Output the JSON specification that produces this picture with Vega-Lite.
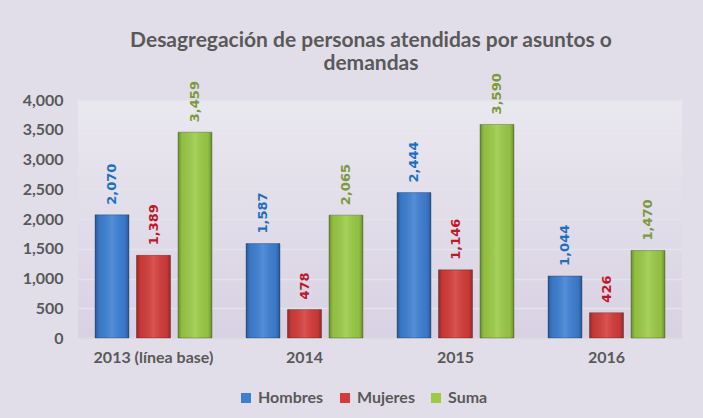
{
  "$schema": "https://vega.github.io/schema/vega-lite/v6.json",
  "width": 604,
  "height": 238,
  "autosize": {"type": "none"},
  "padding": {"left": 78, "top": 100, "right": 21, "bottom": 80},
  "background": "#e2dee9",
  "config": {
    "view": {
      "stroke": null,
      "fill": {"gradient": "linear", "x1": 0, "y1": 0, "x2": 0, "y2": 1,
        "stops": [{"offset": 0, "color": "#eae8ef"}, {"offset": 1, "color": "#d8d1e3"}]}
    },
    "font": "Lato"
  },
  "title": {
    "text": ["Desagregación de personas atendidas por asuntos o", "demandas"],
    "font": "Lato", "fontSize": 21, "fontWeight": "bold", "color": "#595959",
    "anchor": "middle", "offset": 4, "dy": 5, "lineHeight": 23, "dx": -9
  },
  "data": {
    "values": [
      {"anio": "2013 (línea base)", "serie": "Hombres", "valor": 2070},
      {"anio": "2013 (línea base)", "serie": "Mujeres", "valor": 1389},
      {"anio": "2013 (línea base)", "serie": "Suma", "valor": 3459},
      {"anio": "2014", "serie": "Hombres", "valor": 1587},
      {"anio": "2014", "serie": "Mujeres", "valor": 478},
      {"anio": "2014", "serie": "Suma", "valor": 2065},
      {"anio": "2015", "serie": "Hombres", "valor": 2444},
      {"anio": "2015", "serie": "Mujeres", "valor": 1146},
      {"anio": "2015", "serie": "Suma", "valor": 3590},
      {"anio": "2016", "serie": "Hombres", "valor": 1044},
      {"anio": "2016", "serie": "Mujeres", "valor": 426},
      {"anio": "2016", "serie": "Suma", "valor": 1470}
    ]
  },
  "encoding": {
    "x": {
      "field": "anio", "type": "nominal", "sort": null,
      "scale": {"paddingInner": 0.225, "paddingOuter": 0.1125},
      "axis": {
        "title": null, "labelAngle": 0, "labelFont": "Lato", "labelFontSize": 16,
        "labelFontWeight": "bold", "labelColor": "#595959", "labelPadding": 11,
        "ticks": false, "domainColor": "#d9d9de", "domainWidth": 1.5
      }
    },
    "xOffset": {
      "field": "serie", "type": "nominal", "sort": ["Hombres", "Mujeres", "Suma"],
      "scale": {"paddingInner": 0.18, "paddingOuter": 0}
    },
    "y": {
      "field": "valor", "type": "quantitative",
      "scale": {"domain": [0, 4000], "nice": false},
      "axis": {
        "title": null, "values": [0, 500, 1000, 1500, 2000, 2500, 3000, 3500, 4000],
        "format": ",.0f", "labelFont": "Lato", "labelFontSize": 16, "labelFontWeight": "bold",
        "labelColor": "#595959", "labelPadding": 15, "ticks": false, "domain": false,
        "gridColor": "#e4e2ea", "gridWidth": 1.5
      }
    }
  },
  "layer": [
    {
      "mark": {"type": "bar"},
      "encoding": {
        "color": {
          "field": "serie", "type": "nominal", "sort": ["Hombres", "Mujeres", "Suma"],
          "scale": {"range": ["#3d7fd3", "#d43c3a", "#9acb45"]},
          "legend": {
            "orient": "none", "legendX": 160, "legendY": 290, "direction": "horizontal", "title": null,
            "symbolType": "square", "symbolSize": 100, "symbolStrokeWidth": 0,
            "labelFont": "Lato", "labelFontSize": 16, "labelFontWeight": "bold",
            "labelColor": "#595959", "columnPadding": 13, "labelOffset": 4
          }
        }
      }
    },
    {
      "mark": {
        "type": "bar",
        "fill": {"gradient": "linear", "x1": 0, "y1": 0, "x2": 1, "y2": 0,
          "stops": [
            {"offset": 0, "color": "rgba(0,0,0,0.30)"},
            {"offset": 0.12, "color": "rgba(0,0,0,0.06)"},
            {"offset": 0.5, "color": "rgba(255,255,255,0.12)"},
            {"offset": 0.88, "color": "rgba(0,0,0,0.06)"},
            {"offset": 1, "color": "rgba(0,0,0,0.30)"}
          ]},
        "stroke": "rgba(0,0,0,0.35)", "strokeWidth": 0.7
      }
    },
    {
      "mark": {
        "type": "text", "angle": 270, "align": "left", "baseline": "middle",
        "dx": 10, "font": "DejaVu Sans", "fontSize": 13, "fontWeight": "bold"
      },
      "encoding": {
        "text": {"field": "valor", "type": "quantitative", "format": ",.0f"},
        "color": {
          "condition": [
            {"test": "datum.serie === 'Hombres'", "value": "#1f6fc0"},
            {"test": "datum.serie === 'Mujeres'", "value": "#c0162a"}
          ],
          "value": "#7c9a3c"
        }
      }
    }
  ]
}
